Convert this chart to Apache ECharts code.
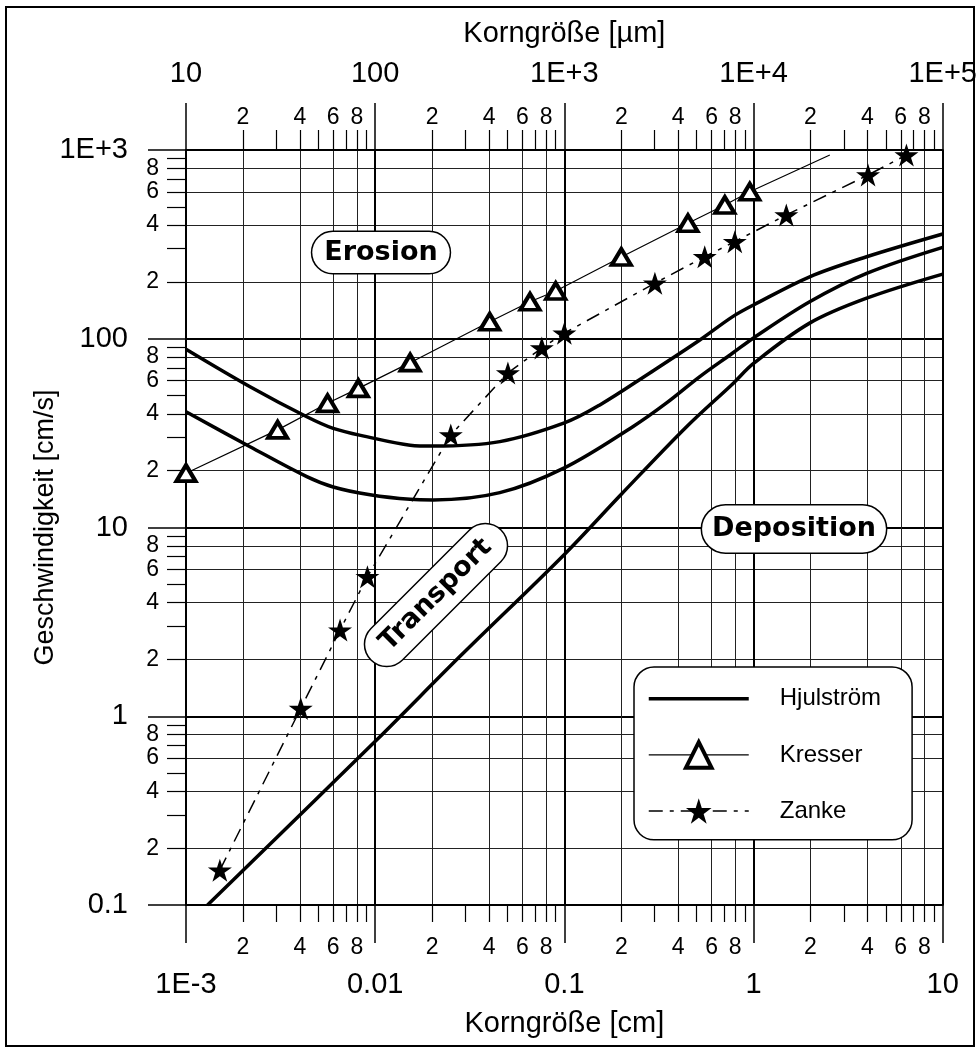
<!DOCTYPE html>
<html>
<head>
    <meta http-equiv="Content-Type" content="text/html; charset=UTF-8">
    <title>Hjulström</title>
    <script src="https://cdn.jsdelivr.net/npm/echarts@6/dist/echarts.min.js"></script>
    <style>
        html, body { margin: 0; padding: 0; background: #fff; }
    </style>
</head>
<body>
<div id="chart" style="width: 980px; height: 1053px;"></div>

<script type="text/javascript">
    // Achsen (Dekaden + Zwischenwerte)
    var cmDecades = [0.001, 0.01, 0.1, 1, 10];
    var cmDecadeLabels = ['1E-3', '0.01', '0.1', '1', '10'];
    var umDecades = [10, 100, 1000, 10000, 100000];
    var umDecadeLabels = ['10', '100', '1E+3', '1E+4', '1E+5'];
    var vDecades = [0.1, 1, 10, 100, 1000];
    var vDecadeLabels = ['0.1', '1', '10', '100', '1E+3'];
    var minorTickSteps = [2, 3, 4, 5, 6, 7, 8, 9];
    var minorLabelSteps = [2, 4, 6, 8];
    var minorGridSteps = [2, 4, 6, 8];

    // Hjulström: obere und untere Erosionskurve, Sedimentationskurve
    var hjulUpperX = [0.001, 0.00218, 0.00435, 0.006, 0.009, 0.0153, 0.0203, 0.0456, 0.1, 0.154, 0.283, 0.52, 0.776, 1, 1.98, 3.96, 10];
    var hjulUpperY = [88, 55.7, 38.6, 33.5, 30.3, 27.3, 27.0, 28.5, 35.8, 44.6, 65.9, 98.5, 131, 151, 213, 272, 359];
    var hjulLowerX = [0.001, 0.00218, 0.00435, 0.006, 0.0094, 0.0153, 0.0203, 0.0456, 0.1, 0.23, 0.347, 0.52, 0.776, 1, 1.98, 3.96, 10];
    var hjulLowerY = [41, 26.8, 18.6, 16.4, 14.9, 14.1, 14.0, 15.3, 20.7, 34.2, 45.7, 63, 84, 101, 157, 222, 305];
    var hjulDepX = [0.0013, 0.0102, 0.028, 0.1, 0.2, 0.44, 0.78, 1, 1.98, 3.96, 10];
    var hjulDepY = [0.1, 0.75, 2.07, 7.2, 15, 34, 58, 74, 121, 164, 220];

    // Kresser (Dreiecke) + Linienende ohne Symbol
    var kresserX = [0.001, 0.00305, 0.0056, 0.00815, 0.0153, 0.0403, 0.0658, 0.09, 0.2, 0.45, 0.705, 0.955];
    var kresserY = [19.4, 32.9, 45.5, 54.6, 74.7, 123, 157, 179, 271, 409, 511, 601];
    var kresserLineEnd = [2.53, 941];

    // Zanke (Sterne)
    var zankeX = [0.00151, 0.00404, 0.00652, 0.0091, 0.0251, 0.0503, 0.076, 0.1, 0.301, 0.552, 0.796, 1.49, 4.03, 6.43];
    var zankeY = [0.153, 1.10, 2.86, 5.49, 30.9, 65.9, 89.3, 107, 197, 272, 327, 453, 737, 941];

    var STAR = 'path://M50,0L61.23,34.55L97.55,34.55L68.17,55.9L79.39,90.45L50,69.1L20.61,90.45L31.83,55.9L2.45,34.55L38.77,34.55Z';
    var FONT = 'Liberation Sans';

    function zip(xs, ys) {
        var res = [];
        for (var i = 0; i < xs.length; i++) res.push([xs[i], ys[i]]);
        return res;
    }

    function minorValues(decades, steps) {
        var res = [];
        for (var i = 0; i < decades.length - 1; i++) {
            for (var j = 0; j < steps.length; j++) res.push(decades[i] * steps[j]);
        }
        return res;
    }

    function decadeFormatter(decades, labels) {
        return function (v) {
            for (var i = 0; i < decades.length; i++) {
                if (Math.abs(Math.log10(v) - Math.log10(decades[i])) < 0.01) return labels[i];
            }
            return '';
        };
    }

    function digitFormatter(v) {
        var d = Math.pow(10, Math.floor(Math.log10(v) + 1e-9));
        return String(Math.round(v / d));
    }

    // drei Achsen je Richtung: Dekaden (+Name, dicke Linien), Zwischenstriche/-zahlen, duenne Gitterlinien
    function axisSet(pos, decades, labels, name, c) {
        var min = decades[0], max = decades[decades.length - 1];
        var base = {
            type: 'log', logBase: 10, min: min, max: max, position: pos, gridIndex: 0
        };
        var main = Object.assign({}, base, {
            name: name,
            nameLocation: 'middle',
            nameGap: c.nameGap,
            nameMoveOverlap: false,
            nameTextStyle: { fontSize: c.nameSize || 29, color: '#000', fontFamily: FONT },
            axisLine: { show: true, onZero: false, lineStyle: { color: '#000', width: 2 } },
            axisTick: { show: true, customValues: decades, length: c.majorTick, lineStyle: { color: '#000', width: 1.5 } },
            axisLabel: {
                show: true, customValues: decades, margin: c.majorMargin,
                fontSize: 29, color: '#000', fontFamily: FONT,
                formatter: decadeFormatter(decades, labels)
            },
            splitLine: { show: true, lineStyle: { color: '#000', width: 2 } }
        });
        var minor = Object.assign({}, base, {
            axisLine: { show: false, onZero: false },
            axisTick: { show: true, customValues: minorValues(decades, minorTickSteps), length: c.minorTick, lineStyle: { color: '#000', width: 1.2 } },
            axisLabel: {
                show: true, customValues: minorValues(decades, minorLabelSteps), margin: c.minorMargin,
                fontSize: 23, color: '#000', fontFamily: FONT, formatter: digitFormatter
            },
            splitLine: { show: false }
        });
        var grid = Object.assign({}, base, {
            axisLine: { show: false, onZero: false },
            axisTick: { show: false, customValues: minorValues(decades, minorGridSteps) },
            axisLabel: { show: false },
            splitLine: { show: true, lineStyle: { color: '#222', width: 1 } }
        });
        return [main, minor, grid];
    }

    var xAxes = axisSet('bottom', cmDecades, cmDecadeLabels, 'Korngröße [cm]',
        { nameGap: 104, majorTick: 38, minorTick: 17, majorMargin: 65, minorMargin: 31 })
        .concat(axisSet('top', umDecades, umDecadeLabels, 'Korngröße [µm]',
        { nameGap: 102, majorTick: 47, minorTick: 20, majorMargin: 62, minorMargin: 21 }));
    var yAxes = axisSet('left', vDecades, vDecadeLabels, 'Geschwindigkeit [cm/s]',
        { nameGap: 127, nameSize: 27, majorTick: 38, minorTick: 19, majorMargin: 58, minorMargin: 27 });

    var hjulStyle = { color: '#000', width: 3.5 };

    var chart = echarts.init(document.getElementById('chart'));
    chart.setOption({
        animation: false,
        backgroundColor: '#fff',
        grid: { left: 186, right: 37, top: 150, bottom: 148 },
        xAxis: xAxes,
        yAxis: yAxes,
        legend: {
            orient: 'vertical',
            left: 634,
            top: 667,
            itemWidth: 100,
            itemHeight: 32,
            itemGap: 28.5,
            padding: [19, 31, 16, 13],
            backgroundColor: '#fff',
            borderColor: '#000',
            borderWidth: 1.5,
            borderRadius: 20,
            selectedMode: false,
            lineStyle: { width: 'inherit' },
            itemStyle: { borderWidth: 'inherit' },
            textStyle: { fontSize: 24, color: '#000', fontFamily: FONT, padding: [0, 0, 0, 26] },
            data: [
                { name: 'Hjulström', itemStyle: { color: 'rgba(0,0,0,0)', borderColor: 'rgba(0,0,0,0)', borderWidth: 0 } },
                'Kresser',
                'Zanke'
            ],
            z: 20
        },
        graphic: [
            {
                type: 'rect', silent: true, z: -10,
                shape: { x: 6, y: 7, width: 968, height: 1039 },
                style: { fill: 'none', stroke: '#000', lineWidth: 2 }
            },
            {
                type: 'text', x: 381, y: 252.5, z: 100,
                style: {
                    text: 'Erosion', fontSize: 27, fontWeight: 'bold', fontFamily: 'DejaVu Sans',
                    fill: '#000', align: 'center', verticalAlign: 'middle',
                    backgroundColor: '#fff', borderColor: '#000', borderWidth: 1.5, borderRadius: 21,
                    padding: [7, 12]
                }
            },
            {
                type: 'text', x: 794, y: 529, z: 100,
                style: {
                    text: 'Deposition', fontSize: 27, fontWeight: 'bold', fontFamily: 'DejaVu Sans',
                    fill: '#000', align: 'center', verticalAlign: 'middle',
                    backgroundColor: '#fff', borderColor: '#000', borderWidth: 1.5, borderRadius: 24,
                    padding: [10, 10]
                }
            },
            {
                type: 'text', x: 436, y: 595, z: 100, rotation: Math.PI / 4,
                style: {
                    text: 'Transport', fontSize: 27, fontWeight: 'bold', fontFamily: 'DejaVu Sans',
                    fill: '#000', align: 'center', verticalAlign: 'middle',
                    backgroundColor: '#fff', borderColor: '#000', borderWidth: 1.5, borderRadius: 22,
                    padding: [8, 18]
                }
            }
        ],
        series: [
            {
                name: 'Hjulström', type: 'line', smooth: 0.35, symbol: 'none', color: '#000',
                lineStyle: hjulStyle, data: zip(hjulUpperX, hjulUpperY), z: 3
            },
            {
                name: 'Hjulström', type: 'line', smooth: 0.35, symbol: 'none', color: '#000',
                lineStyle: hjulStyle, data: zip(hjulLowerX, hjulLowerY), z: 3
            },
            {
                name: 'Hjulström', type: 'line', smooth: 0.35, symbol: 'none', color: '#000',
                lineStyle: hjulStyle, data: zip(hjulDepX, hjulDepY), z: 3
            },
            {
                name: 'Kresser', type: 'line', color: '#000',
                symbol: 'triangle', symbolSize: [19, 16], showAllSymbol: true,
                itemStyle: { color: '#fff', borderColor: '#000', borderWidth: 4 },
                lineStyle: { color: '#000', width: 1.2 },
                data: zip(kresserX, kresserY).concat([{ value: kresserLineEnd, symbol: 'none' }]),
                z: 4
            },
            {
                name: 'Zanke', type: 'line', color: '#000',
                symbol: STAR, symbolSize: [24, 23], showAllSymbol: true,
                itemStyle: { color: '#000' },
                lineStyle: { color: '#000', width: 1.5, type: [14, 7, 4, 7] },
                data: zip(zankeX, zankeY),
                z: 4
            }
        ]
    });
</script>

</body>
</html>
